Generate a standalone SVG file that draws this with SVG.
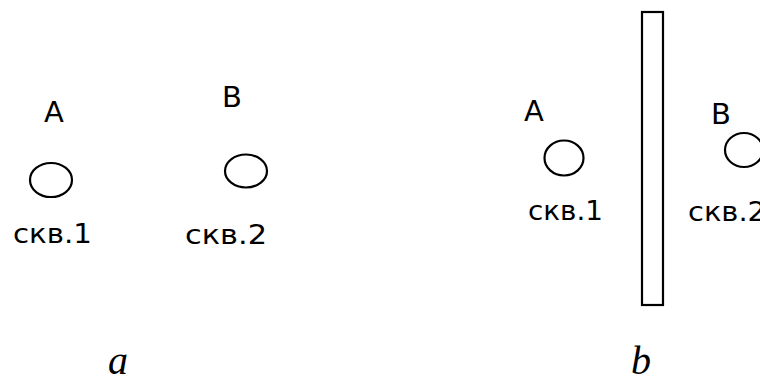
<svg xmlns="http://www.w3.org/2000/svg" width="760" height="381" viewBox="0 0 760 381">
<style>
.bg{fill:#fff}
.well{fill:none;stroke:#000;stroke-width:2.2}
.lbl{font-family:"DejaVu Sans",sans-serif;font-size:29px;fill:#000;text-anchor:middle}
.skv{font-family:"DejaVu Sans",sans-serif;font-size:26px;fill:#000}
.cap{font-family:"Liberation Serif","Times New Roman",serif;font-style:italic;font-size:40px;fill:#000;text-anchor:middle}
</style>
<rect class="bg" x="0" y="0" width="760" height="381"/>
<g id="panel-a">
  <g id="a-A">
    <text class="lbl" x="54" y="122">A</text>
  </g>
  <g id="a-well1">
    <ellipse class="well" cx="51" cy="180" rx="21" ry="17"/>
    <text class="skv" x="13" y="243" textLength="79" lengthAdjust="spacingAndGlyphs">скв.1</text>
  </g>
  <g id="a-B">
    <text class="lbl" x="232" y="107">B</text>
  </g>
  <g id="a-well2">
    <ellipse class="well" cx="246" cy="171" rx="21" ry="16.5"/>
    <text class="skv" x="185" y="244" textLength="82" lengthAdjust="spacingAndGlyphs">скв.2</text>
  </g>
  <text class="cap" x="118" y="374">a</text>
</g>
<g id="panel-b">
  <g id="b-A">
    <text class="lbl" x="534" y="121">A</text>
  </g>
  <g id="b-well1">
    <ellipse class="well" cx="564" cy="158" rx="19.5" ry="17.5"/>
    <text class="skv" x="528" y="220" textLength="75" lengthAdjust="spacingAndGlyphs">скв.1</text>
  </g>
  <g id="b-wall">
    <rect class="well" x="642" y="12" width="21" height="293"/>
  </g>
  <g id="b-B">
    <text class="lbl" x="721" y="124">B</text>
  </g>
  <g id="b-well2">
    <ellipse class="well" cx="744" cy="150" rx="19" ry="17"/>
    <text class="skv" x="688" y="221" textLength="78" lengthAdjust="spacingAndGlyphs">скв.2</text>
  </g>
  <text class="cap" x="641" y="374">b</text>
</g>
<g id="connectors"></g>
</svg>
